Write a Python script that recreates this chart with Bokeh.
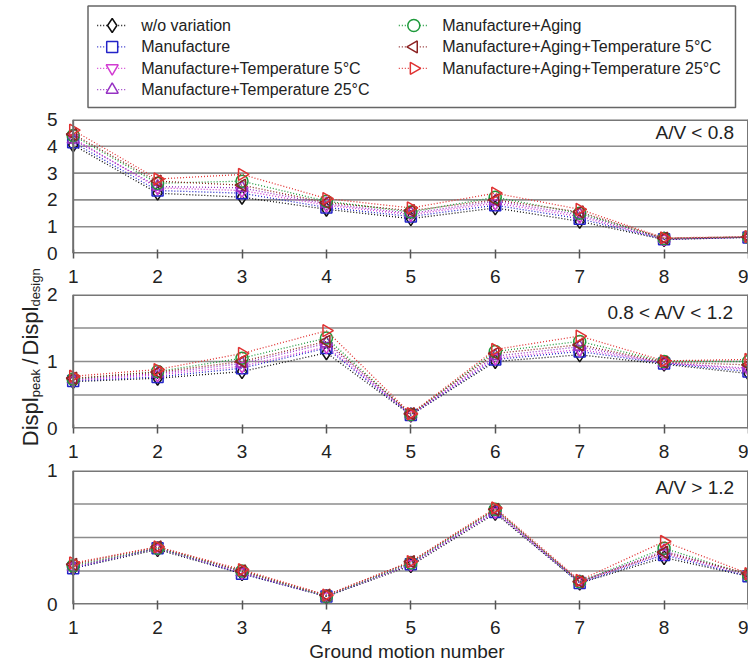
import numpy as np
from bokeh.plotting import figure
from bokeh.models import Range1d, FixedTicker, Span, Label
from bokeh.layouts import column, row
from bokeh.embed import file_html
from bokeh.resources import INLINE
from bokeh.core.properties import value

FONT = "Liberation Sans"

# ---------------- data ----------------
ground_motion = [1, 2, 3, 4, 5, 6, 7, 8, 9]

series_labels = [
    "w/o variation",
    "Manufacture",
    "Manufacture+Temperature 5°C",
    "Manufacture+Temperature 25°C",
    "Manufacture+Aging",
    "Manufacture+Aging+Temperature 5°C",
    "Manufacture+Aging+Temperature 25°C",
]

# A/V < 0.8
low_wo    = [4.05, 2.25, 2.10, 1.65, 1.30, 1.70, 1.20, 0.52, 0.60]
low_m     = [4.15, 2.35, 2.25, 1.72, 1.38, 1.80, 1.30, 0.53, 0.60]
low_mt5   = [4.30, 2.45, 2.35, 1.80, 1.45, 1.88, 1.38, 0.54, 0.61]
low_mt25  = [4.25, 2.50, 2.45, 1.85, 1.50, 1.95, 1.45, 0.55, 0.61]
low_ma    = [4.40, 2.62, 2.70, 1.95, 1.55, 2.10, 1.50, 0.56, 0.62]
low_mat5  = [4.45, 2.70, 2.55, 1.90, 1.60, 2.00, 1.55, 0.57, 0.62]
low_mat25 = [4.60, 2.78, 2.95, 2.05, 1.70, 2.25, 1.65, 0.58, 0.63]

# 0.8 < A/V < 1.2
mid_wo    = [0.70, 0.75, 0.85, 1.13, 0.20, 1.00, 1.10, 0.96, 0.82]
mid_m     = [0.71, 0.77, 0.90, 1.20, 0.20, 1.03, 1.15, 0.97, 0.85]
mid_mt5   = [0.72, 0.80, 0.93, 1.22, 0.21, 1.05, 1.18, 0.98, 0.88]
mid_mt25  = [0.73, 0.82, 0.97, 1.27, 0.21, 1.08, 1.22, 0.98, 0.90]
mid_ma    = [0.74, 0.85, 1.05, 1.35, 0.21, 1.15, 1.30, 1.00, 1.00]
mid_mat5  = [0.75, 0.84, 1.00, 1.30, 0.22, 1.12, 1.25, 0.99, 0.95]
mid_mat25 = [0.78, 0.88, 1.12, 1.46, 0.22, 1.18, 1.38, 1.01, 1.03]

# A/V > 1.2
high_wo    = [0.27, 0.41, 0.23, 0.06, 0.29, 0.68, 0.16, 0.35, 0.21]
high_m     = [0.27, 0.42, 0.23, 0.06, 0.30, 0.69, 0.16, 0.37, 0.21]
high_mt5   = [0.28, 0.42, 0.24, 0.06, 0.30, 0.69, 0.17, 0.38, 0.22]
high_mt25  = [0.28, 0.42, 0.24, 0.06, 0.31, 0.70, 0.17, 0.40, 0.22]
high_ma    = [0.29, 0.42, 0.25, 0.06, 0.31, 0.71, 0.17, 0.42, 0.22]
high_mat5  = [0.30, 0.43, 0.25, 0.07, 0.32, 0.71, 0.17, 0.39, 0.23]
high_mat25 = [0.31, 0.43, 0.26, 0.07, 0.32, 0.72, 0.18, 0.47, 0.23]

panel_notes = ["A/V < 0.8", "0.8 < A/V < 1.2", "A/V > 1.2"]
panel_ymax = [5, 2, 1]
panel_label_ticks = [[0, 1, 2, 3, 4, 5], [0, 1, 2], [0, 1]]
panel_grid_step = [1, 0.5, 0.25]

x_title = "Ground motion number"
y_title_parts = [("Displ", "main"), ("peak", "sub"), ("/", "main"), ("Displ", "main"), ("design", "sub")]

# ---------------- styles ----------------
colors = ["#111111", "#2323c8", "#d23cd2", "#9632c3", "#1f9a3c", "#8c2323", "#e03232"]
markers = ["diamond", "square", "inverted_triangle", "triangle", "circle", "triangle", "triangle"]
angles = [0, 0, 0, 0, 0, np.pi / 2, -np.pi / 2]
sizes = [14, 11, 12, 12, 12, 12, 12]

X_START = 0.909
GRID_COLOR = "#8c8c8c"
TXT = "#222222"
PAGE_H = 665
LEG_H = 109
YL_W = 40          # visible width of the y-title strip
YL_EXTRA = 60      # strip continues under the (transparent) panels


def add_series(p, xs, ys, i):
    p.line(xs, ys, line_color=colors[i], line_dash="1 2", line_width=1.3)
    p.scatter(xs, ys, marker=markers[i], size=sizes[i], angle=angles[i],
              fill_color=None, line_color=colors[i], line_width=1.5)


def make_panel(values, k, height, bottom, overlap, xlabel=None):
    ymax = panel_ymax[k]
    p = figure(width=748 - YL_W, height=height, x_range=Range1d(X_START, ground_motion[-1]),
               y_range=Range1d(0, ymax), output_backend="svg", toolbar_location=None,
               min_border_left=25, min_border_right=0, min_border_top=10,
               min_border_bottom=bottom)
    if overlap:
        p.margin = (-10, 0, 0, 0)
    p.outline_line_color = None
    p.background_fill_color = None
    p.border_fill_color = None
    p.xgrid.visible = False
    p.ygrid.visible = False

    step = panel_grid_step[k]
    gv = list(np.arange(step, ymax - step / 2, step))
    p.segment(x0=ground_motion[0], x1=ground_motion[-1], y0=gv, y1=gv,
              line_color=GRID_COLOR, line_width=1.6)
    p.segment(x0=ground_motion[0], x1=ground_motion[-1], y0=[0, ymax], y1=[0, ymax],
              line_color="#777777", line_width=3.2)
    p.add_layout(Span(location=ground_motion[0], dimension="height",
                      line_color="#6e6e6e", line_width=2))
    p.add_layout(Span(location=ground_motion[-1], dimension="height",
                      line_color="#777777", line_width=3))

    for i, ys in enumerate(values):
        add_series(p, ground_motion, ys, i)

    p.yaxis.ticker = FixedTicker(ticks=panel_label_ticks[k])
    p.yaxis.axis_line_color = None
    p.yaxis.major_tick_line_color = None
    p.yaxis.minor_tick_line_color = None
    p.yaxis.major_label_standoff = 2
    p.yaxis.major_label_text_font = FONT
    p.yaxis.major_label_text_font_size = "19px"
    p.yaxis.major_label_text_color = TXT

    p.xaxis.ticker = FixedTicker(ticks=ground_motion)
    p.xaxis.axis_line_color = None
    p.xaxis.major_tick_in = 4
    p.xaxis.major_tick_out = 5
    p.xaxis.major_tick_line_color = "#555555"
    p.xaxis.major_tick_line_width = 1.5
    p.xaxis.minor_tick_line_color = None
    p.xaxis.major_label_standoff = 11
    p.xaxis.major_label_text_font = FONT
    p.xaxis.major_label_text_font_size = "19px"
    p.xaxis.major_label_text_color = TXT
    if xlabel:
        p.xaxis.axis_label = xlabel
        p.xaxis.axis_label_text_font = FONT
        p.xaxis.axis_label_text_font_size = "19px"
        p.xaxis.axis_label_text_font_style = "normal"
        p.xaxis.axis_label_text_color = TXT
        p.xaxis.axis_label_standoff = 4

    note_y = [4.52, 1.73, 0.875][k]
    p.add_layout(Label(x=8.83, y=note_y, text=panel_notes[k], text_align="right",
                       text_baseline="middle", text_font=FONT, text_font_size="19px",
                       text_color=TXT))
    return p


p1 = make_panel([low_wo, low_m, low_mt5, low_mt25, low_ma, low_mat5, low_mat25],
                0, 185, 41, False)
p2 = make_panel([mid_wo, mid_m, mid_mt5, mid_mt25, mid_ma, mid_mat5, mid_mat25],
                1, 186, 42, True)
p3 = make_panel([high_wo, high_m, high_mt5, high_mt25, high_ma, high_mat5, high_mat25],
                2, 205, 61, True, xlabel=x_title)

# ---------------- legend (key drawn in its own strip; page-pixel layout) ----------------
lf = figure(width=748, height=LEG_H, x_range=Range1d(0, 748), y_range=Range1d(0, LEG_H),
            output_backend="svg", toolbar_location=None, x_axis_location=None,
            y_axis_location=None, min_border=0)
lf.outline_line_color = None
lf.xgrid.visible = False
lf.ygrid.visible = False

box_l, box_r, box_t, box_b = 87.5, 735, 5.5, 107
lf.quad(left=box_l, right=box_r, top=LEG_H - box_t, bottom=LEG_H - box_b,
        fill_color="white", line_color="#666666", line_width=1.5)
col_cx = [111.7, 413.3]
col_tx = [140.7, 441.7]
row_y0, row_dy, nrows = 25.0, 21.4, 4
for i, lab in enumerate(series_labels):
    c, r = divmod(i, nrows)
    cy = LEG_H - (row_y0 + r * row_dy)
    cx = col_cx[c]
    lf.segment(x0=cx - 15, x1=cx + 15, y0=cy, y1=cy, line_color=colors[i],
               line_dash="1 2", line_width=1.3)
    lf.scatter(x=[cx], y=[cy], marker=markers[i], size=sizes[i], angle=angles[i],
               fill_color="white", line_color=colors[i], line_width=1.5)
    lf.text(x=[col_tx[c]], y=[cy], text=[lab], text_baseline="middle", text_align="left",
            text_font=value(FONT), text_font_size="16px", text_color=TXT)

# ---------------- y-axis title with subscripts (page-pixel layout) ----------------
yl_h = PAGE_H - LEG_H
yl_w = YL_W + YL_EXTRA
yl = figure(width=yl_w, height=yl_h, x_range=Range1d(0, yl_w), y_range=Range1d(0, yl_h),
            output_backend="svg", toolbar_location=None, x_axis_location=None,
            y_axis_location=None, min_border=0)
yl.outline_line_color = None
yl.xgrid.visible = False
yl.ygrid.visible = False
pos = [445.7, 396.8, 364.0, 355.0, 306.1]
for (txt, kind), py in zip(y_title_parts, pos):
    main = kind == "main"
    yl.add_layout(Label(x=30 if main else 34.5, y=PAGE_H - py, text=txt, angle=np.pi / 2,
                        text_align="left", text_baseline="alphabetic", text_font=FONT,
                        text_font_size="22px" if main else "13px", text_color=TXT))

panels = column(p1, p2, p3, spacing=0)
panels.margin = (0, 0, 0, -YL_EXTRA)
layout = column(lf, row(yl, panels, spacing=0), spacing=0)

open("out.html", "w").write(file_html(layout, INLINE))
